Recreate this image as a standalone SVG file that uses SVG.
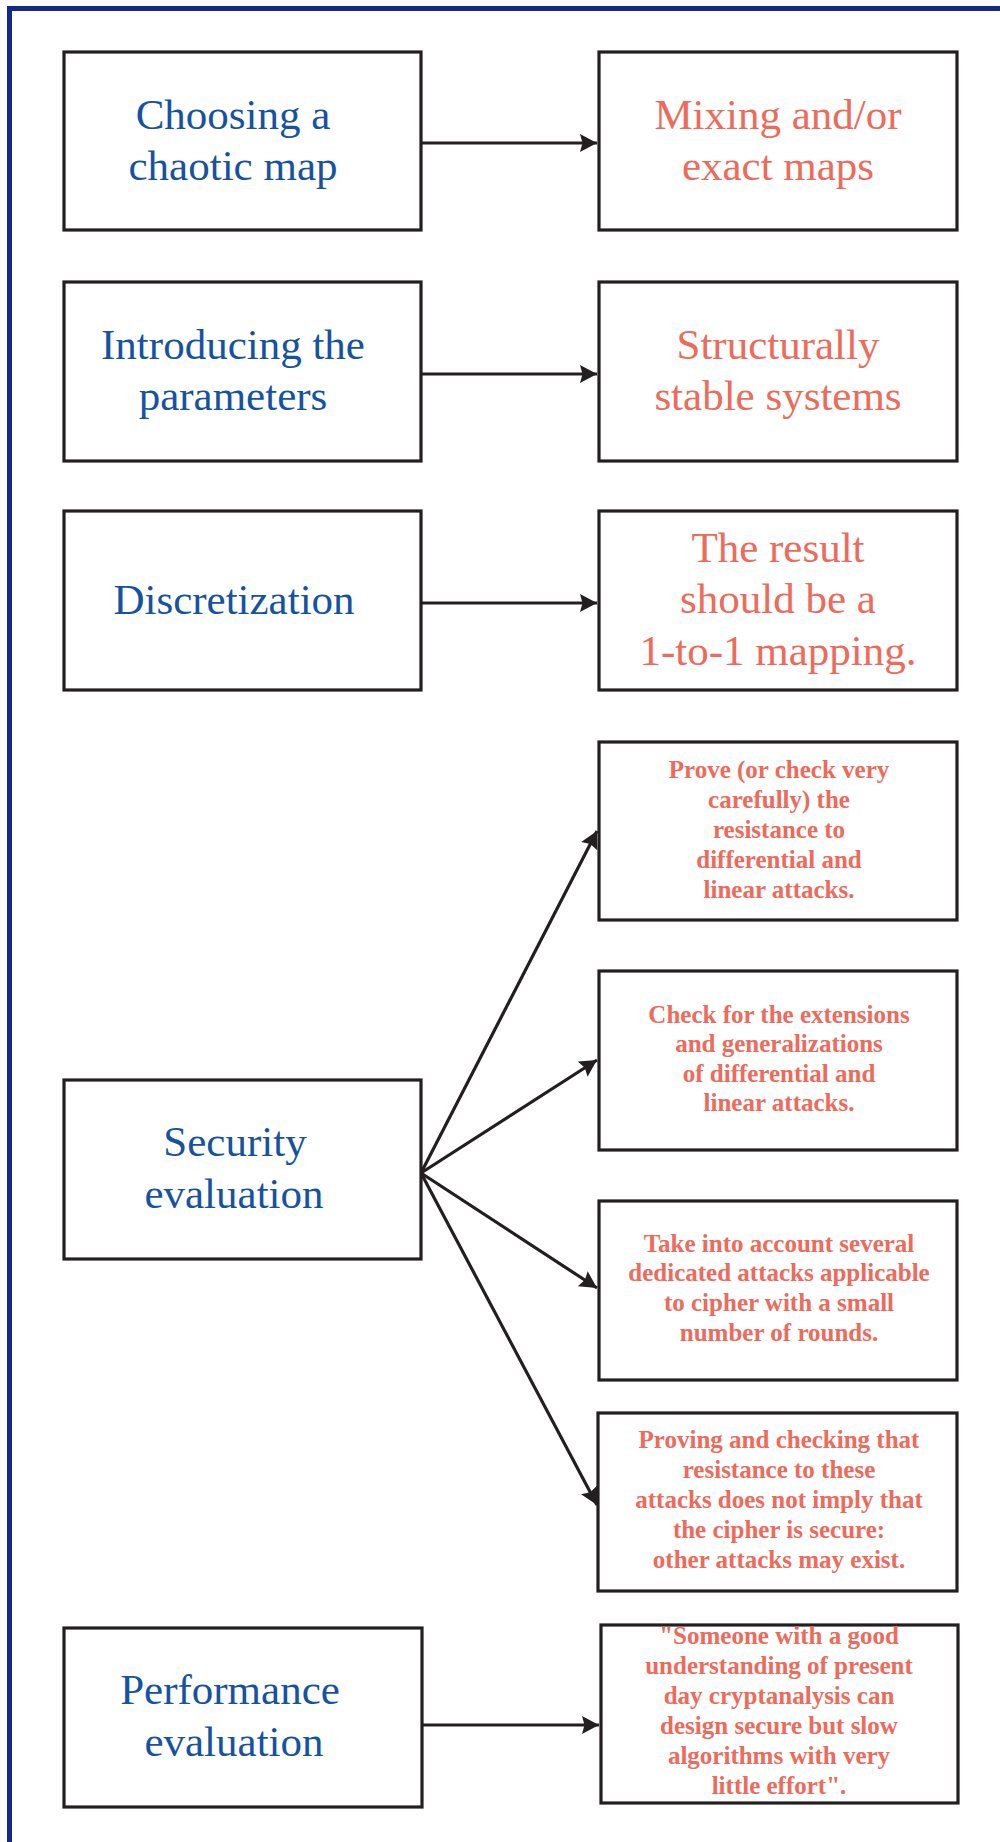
<svg xmlns="http://www.w3.org/2000/svg" width="1000" height="1842" viewBox="0 0 1000 1842">
<style>
.box{fill:#fff;stroke:#231f20;stroke-width:3.2}
.big{font-family:"Liberation Serif","Times New Roman",serif;font-size:43px;text-anchor:middle}
.blue{fill:#1652a2}
.red{fill:#ee6a5a}
.small{font-family:"Liberation Serif","Times New Roman",serif;font-size:25px;font-weight:bold;text-anchor:middle;fill:#ee6a5a}
.conn{stroke:#231f20;stroke-width:3.2;fill:none}
</style>
<defs>
<marker id="ah" markerUnits="userSpaceOnUse" markerWidth="20" markerHeight="20" refX="17" refY="9" orient="auto">
<path d="M0,0 L17,9 L0,18 L2.5,9 z" fill="#231f20"/>
</marker>
</defs>
<rect width="1000" height="1842" fill="#fff"/>
<g id="frame">
<rect x="7" y="6" width="993" height="5" fill="#14298c"/>
<rect x="7" y="6" width="5" height="1836" fill="#14298c"/>
</g>
<g id="connectors">
<line class="conn" x1="421" y1="143" x2="597" y2="143" marker-end="url(#ah)"/>
<line class="conn" x1="421" y1="374" x2="597" y2="374" marker-end="url(#ah)"/>
<line class="conn" x1="421" y1="603" x2="597" y2="603" marker-end="url(#ah)"/>
<line class="conn" x1="421" y1="1173" x2="597" y2="831" marker-end="url(#ah)"/>
<line class="conn" x1="421" y1="1173" x2="597" y2="1060" marker-end="url(#ah)"/>
<line class="conn" x1="421" y1="1173" x2="597" y2="1288" marker-end="url(#ah)"/>
<line class="conn" x1="421" y1="1173" x2="597" y2="1505" marker-end="url(#ah)"/>
<line class="conn" x1="421" y1="1725" x2="599" y2="1725" marker-end="url(#ah)"/>
</g>
<g id="n1">
<rect class="box" x="64" y="52" width="357" height="178"/>
<text class="big blue" x="233" y="129">Choosing a</text>
<text class="big blue" x="233" y="180">chaotic map</text>
</g>
<g id="n2">
<rect class="box" x="599" y="52" width="358" height="178"/>
<text class="big red" x="778" y="129">Mixing and/or</text>
<text class="big red" x="778" y="180">exact maps</text>
</g>
<g id="n3">
<rect class="box" x="64" y="282" width="357" height="179"/>
<text class="big blue" x="233" y="359">Introducing the</text>
<text class="big blue" x="233" y="410">parameters</text>
</g>
<g id="n4">
<rect class="box" x="599" y="282" width="358" height="179"/>
<text class="big red" x="778" y="359">Structurally</text>
<text class="big red" x="778" y="410">stable systems</text>
</g>
<g id="n5">
<rect class="box" x="64" y="511" width="357" height="179"/>
<text class="big blue" x="234" y="614">Discretization</text>
</g>
<g id="n6">
<rect class="box" x="599" y="511" width="358" height="179"/>
<text class="big red" x="778" y="562">The result</text>
<text class="big red" x="778" y="613">should be a</text>
<text class="big red" x="778" y="665">1-to-1 mapping.</text>
</g>
<g id="n7">
<rect class="box" x="599" y="742" width="358" height="178"/>
<text class="small" x="779" y="778">Prove (or check very</text>
<text class="small" x="779" y="808">carefully) the</text>
<text class="small" x="779" y="838">resistance to</text>
<text class="small" x="779" y="868">differential and</text>
<text class="small" x="779" y="898">linear attacks.</text>
</g>
<g id="n8">
<rect class="box" x="599" y="971" width="358" height="179"/>
<text class="small" x="779" y="1023">Check for the extensions</text>
<text class="small" x="779" y="1052">and generalizations</text>
<text class="small" x="779" y="1082">of differential and</text>
<text class="small" x="779" y="1111">linear attacks.</text>
</g>
<g id="n9">
<rect class="box" x="64" y="1080" width="357" height="179"/>
<text class="big blue" x="235" y="1156">Security</text>
<text class="big blue" x="234" y="1208">evaluation</text>
</g>
<g id="n10">
<rect class="box" x="599" y="1201" width="358" height="179"/>
<text class="small" x="779" y="1252">Take into account several</text>
<text class="small" x="779" y="1281">dedicated attacks applicable</text>
<text class="small" x="779" y="1311">to cipher with a small</text>
<text class="small" x="779" y="1341">number of rounds.</text>
</g>
<g id="n11">
<rect class="box" x="598" y="1413" width="359" height="178"/>
<text class="small" x="779" y="1448">Proving and checking that</text>
<text class="small" x="779" y="1478">resistance to these</text>
<text class="small" x="779" y="1508">attacks does not imply that</text>
<text class="small" x="779" y="1538">the cipher is secure:</text>
<text class="small" x="779" y="1568">other attacks may exist.</text>
</g>
<g id="n12">
<rect class="box" x="64" y="1628" width="358" height="179"/>
<text class="big blue" x="230" y="1704">Performance</text>
<text class="big blue" x="234" y="1756">evaluation</text>
</g>
<g id="n13">
<rect class="box" x="601" y="1625" width="357" height="178"/>
<text class="small" x="779" y="1644">"Someone with a good</text>
<text class="small" x="779" y="1674">understanding of present</text>
<text class="small" x="779" y="1704">day cryptanalysis can</text>
<text class="small" x="779" y="1734">design secure but slow</text>
<text class="small" x="779" y="1764">algorithms with very</text>
<text class="small" x="779" y="1794">little effort".</text>
</g>
</svg>
